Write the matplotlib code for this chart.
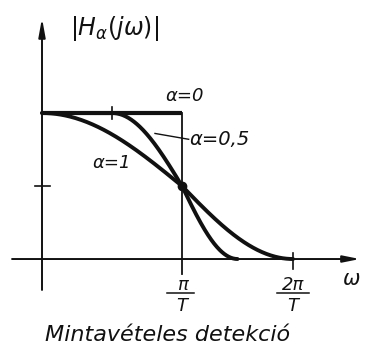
import matplotlib.pyplot as plt
import numpy as np

# roll-off factors of the raised cosine spectra
alphas = [0, 0.5, 1]
alpha_labels = ["α=0", "α=0,5", "α=1"]
# omega axis ticks in units of pi/T
xtick_vals = [1, 2]
xtick_nums = ["π", "2π"]
ytick_vals = [0.5]

INK = "#111111"


def raised_cosine(w, a):
    # w is omega*T/pi
    w = np.abs(w)
    h = np.zeros_like(w)
    h[w <= 1 - a] = 1.0
    if a > 0:
        m = (w > 1 - a) & (w < 1 + a)
        h[m] = 0.5 * (1 - np.sin(np.pi / (2 * a) * (w[m] - 1)))
    return h


# the hand drawn omega axis is squeezed above pi/T
K = 0.793


def fwd(x):
    x = np.asarray(x, dtype=float)
    return np.where(x <= 1, x, 1 + (x - 1) * K)


def inv(y):
    y = np.asarray(y, dtype=float)
    return np.where(y <= 1, y, 1 + (y - 1) / K)


def main():
    fig = plt.figure(figsize=(3.65, 3.51), dpi=100)
    ax = fig.add_axes([0, 0, 1, 1])
    ax.set_xscale("function", functions=(fwd, inv))
    ax.set_xlim(-0.3, float(inv(2.307)))
    ax.set_ylim(-0.63, 1.774)
    ax.axis("off")

    # axes with arrows
    ax.annotate("", xy=(float(inv(2.271)), 0), xytext=(-0.214, 0),
                arrowprops=dict(arrowstyle="-|>,head_length=1.0,head_width=0.2",
                                color=INK, lw=1.4, shrinkA=0, shrinkB=0))
    ax.annotate("", xy=(0, 1.65), xytext=(0, -0.212),
                arrowprops=dict(arrowstyle="-|>,head_length=1.1,head_width=0.2",
                                color=INK, lw=1.4, shrinkA=0, shrinkB=0))

    # alpha = 0: ideal lowpass
    ax.plot([0, 1], [1, 1], color=INK, lw=3.0, solid_capstyle="butt")
    ax.plot([1, 1], [1, -0.1], color=INK, lw=1.3)

    for a in alphas[1:]:
        w = np.linspace(0, 1 + a, 300)
        ax.plot(w, raised_cosine(w, a), color=INK, lw=2.8, solid_capstyle="round")
    ax.plot([1], [0.5], "o", color=INK, ms=6)

    # small ticks
    ax.plot([0.5, 0.5], [1.04, 0.96], color=INK, lw=1.2)
    for yv in ytick_vals:
        ax.plot([-0.05, 0.06], [yv, yv], color=INK, lw=1.2)
    ax.plot([2, 2], [0.04, -0.07], color=INK, lw=1.2)

    # tick labels as fractions
    for xv, num in zip(xtick_vals, xtick_nums):
        half = 0.11 if xv == 1 else 0.145
        ax.text(xv, -0.18, num, ha="center", va="center", fontsize=13,
                style="italic", color=INK)
        ax.plot([xv - half, xv + half], [-0.23, -0.23], color=INK, lw=1.1)
        ax.text(xv, -0.32, "T", ha="center", va="center", fontsize=13,
                style="italic", color=INK)

    ax.text(float(inv(2.21)), -0.14, "ω", ha="center", va="center", fontsize=15,
            style="italic", color=INK)
    ax.text(0.2, 1.58, r"$|H_{\alpha}(j\omega)|$", ha="left", va="center",
            fontsize=17, color=INK)

    ax.text(1.027, 1.116, alpha_labels[0], ha="center", va="center", fontsize=13,
            style="italic", color=INK)
    ax.text(1.07, 0.82, alpha_labels[1], ha="left", va="center", fontsize=14,
            style="italic", color=INK)
    ax.plot([0.807, 1.06], [0.86, 0.82], color=INK, lw=1.0)
    ax.text(0.5, 0.66, alpha_labels[2], ha="center", va="center", fontsize=13,
            style="italic", color=INK)

    ax.text(0.9, -0.52, "Mintavételes detekció", ha="center", va="center",
            fontsize=16, style="italic", color=INK)

    fig.savefig("out.png", dpi=100)


if __name__ == '__main__':
    main()
